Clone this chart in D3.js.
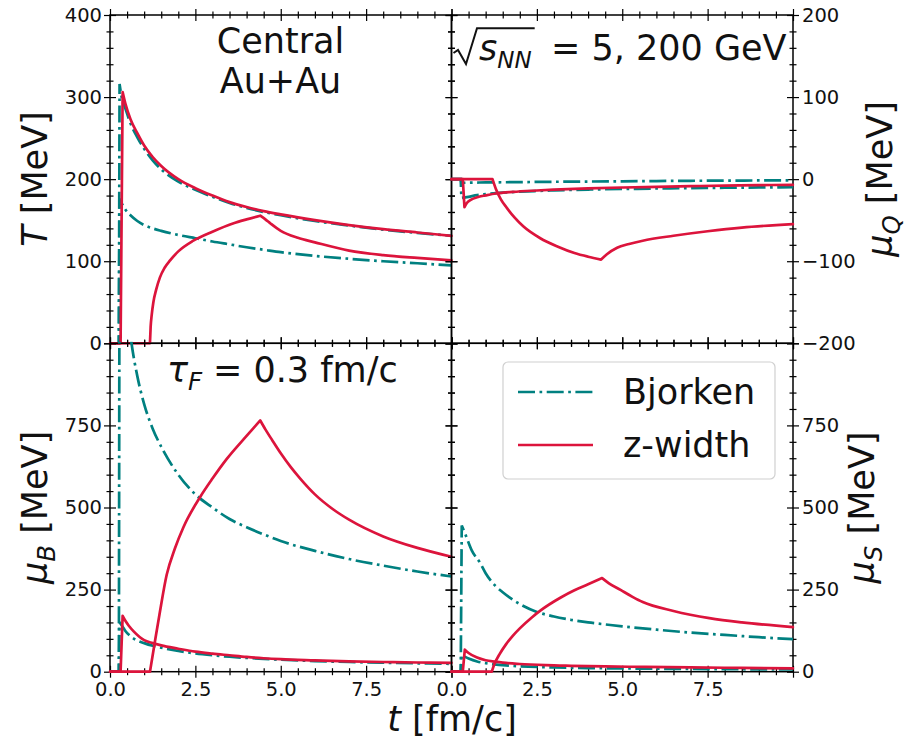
<!DOCTYPE html>
<html>
<head>
<meta charset="utf-8">
<script src="https://cdn.jsdelivr.net/npm/d3@7"></script>
<style>
  body { margin: 0; background: #fff; }
  text { font-family: "DejaVu Sans", sans-serif; fill: #111; }
</style>
</head>
<body>
<svg id="chart" width="915" height="742"></svg>
<script>
// ---- values: [t (fm/c), value (MeV)] ----

// temperature T
const tBjorkenHi = [[0,0],[0.26,0],[0.28,316],[0.35,298],[0.45,286],[0.6,268],[0.8,251],[1,237],[1.25,223],[1.5,212],[2,197],[2.5,187],[3,178.5],[3.5,171],[4,165],[4.5,160],[5,156],[6,149],[7,143.5],[8,138.5],[9,134.5],[10,131]];
const tBjorkenLo = [[0,0],[0.26,0],[0.28,176],[0.35,170],[0.45,163],[0.6,156],[0.8,149],[1,144],[1.25,140],[1.5,137],[2,132],[2.5,128],[3,124],[3.5,120.5],[4,117],[4.5,114],[5,111],[6,106.5],[7,103],[8,100],[9,97.5],[10,95]];
const tZwidthHi = [[0,0],[0.31,0],[0.37,306],[0.45,292],[0.6,273],[0.8,256],[1,241],[1.25,227],[1.5,216],[2,200],[2.5,189],[3,180],[3.5,172],[4,166],[4.5,161],[5,157],[6,150],[7,144],[8,139],[9,135],[10,131]];
const tZwidthLo = [[0,0],[1.17,0],[1.19,20],[1.22,34],[1.27,50],[1.35,65],[1.46,80],[1.6,92],[1.76,101],[2,112],[2.44,125],[3,136],[3.6,146],[4,151],[4.4,155.5],[4.55,151],[4.7,146],[5,137],[5.5,128.5],[6,123],[7,113],[8,107.5],[9,104],[10,101]];

// charge chemical potential muQ
const qBjorkenHi = [[0,0],[0.27,0],[0.29,-4.5],[0.5,-4.3],[1,-4],[2,-3.6],[3,-3.2],[4,-2.9],[5,-2.6],[6,-2.3],[7,-2],[8,-1.8],[9,-1.6],[10,-1.4]];
const qBjorkenLo = [[0,0],[0.27,0],[0.29,-23],[0.5,-21.5],[0.75,-19.5],[1,-18.3],[1.5,-16.5],[2,-15.3],[2.5,-14.4],[3,-13.7],[4,-12.7],[5,-12],[6,-11.4],[7,-10.9],[8,-10.5],[9,-10.1],[10,-9.8]];
const qZwidthHi = [[0,0],[0.33,0],[0.38,-34],[0.45,-29],[0.55,-25.5],[0.8,-21.5],[1,-19.8],[1.3,-17.5],[1.8,-15.5],[2.5,-13.8],[3,-12.8],[4,-11.3],[5,-10.2],[6,-9.3],[7,-8.5],[8,-7.9],[9,-7.3],[10,-6.9]];
const qZwidthLo = [[0,0],[1.2,0],[1.3,-12],[1.45,-25],[1.62,-35],[1.85,-47],[2.1,-57.5],[2.6,-72],[3.1,-82],[3.6,-90],[4,-94.5],[4.38,-98],[4.55,-91.5],[4.85,-83.5],[5.2,-79],[5.6,-75],[6.5,-69],[7.5,-63.5],[8.5,-59],[10,-54.8]];

// baryon chemical potential muB
const bBjorkenHi = [[0,0],[0.26,0],[0.28,1450],[0.4,1230],[0.5,1110],[0.63,1000],[0.8,900],[1,815],[1.25,740],[1.5,685],[2,600],[2.5,540],[3,500],[3.5,465],[4,440],[4.5,418],[5,398],[6,368],[7,343],[8,323],[9,305],[10,290]];
const bBjorkenLo = [[0,0],[0.26,0],[0.28,150],[0.35,140],[0.45,124],[0.6,108],[0.8,95],[1,87],[1.25,79],[1.5,73],[2,63],[2.5,55.5],[3,50],[3.5,45.5],[4,42],[4.5,39],[5,36.5],[6,32.5],[7,29.5],[8,27.5],[9,25.5],[10,24]];
const bZwidthLo = [[0,0],[0.31,0],[0.37,170],[0.45,155],[0.55,140],[0.7,122],[1,96],[1.25,87],[1.5,80],[2,70],[2.5,61],[3,55],[3.5,50],[4,45],[4.5,41],[5,38],[6,34.5],[7,31.5],[8,29.5],[9,28],[10,27]];
const bZwidthHi = [[0,0],[1.17,0],[1.3,82],[1.45,175],[1.66,295],[1.9,375],[2.15,440],[2.64,532],[3,588],[3.42,648],[4,718],[4.4,765],[4.55,738],[4.75,705],[5,665],[5.3,622],[5.57,588],[6,540],[6.54,494],[7,463],[8,412],[9,377],[10,350]];

// strangeness chemical potential muS
const sBjorkenHi = [[0,0],[0.27,0],[0.3,445],[0.4,420],[0.6,368],[0.84,331],[1,300],[1.28,262],[1.5,242],[2,206],[2.5,182],[3,168],[3.5,158],[4,150],[4.5,144],[5,138],[6,128],[7,119],[8,112],[9,105],[10,99]];
const sBjorkenLo = [[0,0],[0.27,0],[0.3,50],[0.5,40],[0.75,31],[1,26],[1.5,20],[2,16.5],[3,13],[4,11],[5,10],[6,9],[7,8.3],[8,7.7],[9,7.2],[10,6.8]];
const sZwidthLo = [[0,0],[0.33,0],[0.39,67],[0.5,57],[0.75,43],[1,35],[1.28,30.5],[1.5,27.5],[2,23.5],[2.75,20],[3.5,18],[4.5,16],[5.67,14.5],[7,13],[8.5,11.5],[10,10]];
const sZwidthHi = [[0,0],[1.18,0],[1.25,22],[1.4,52],[1.6,84],[1.8,110],[2,132],[2.36,166],[2.6,186],[3.2,226],[3.6,248],[4,266],[4.41,285],[4.6,270],[4.95,249],[5.3,228],[5.6,212],[6.5,185],[7.55,163],[8.5,150],[10,136]];

// ticks
const xMajorTicks = [0, 2.5, 5, 7.5, 10];
const xTickLabels = [0, 2.5, 5, 7.5];
const yTicksT = [0, 100, 200, 300, 400];
const yTicksQ = [-200, -100, 0, 100, 200];
const yTicksMu = [0, 250, 500, 750, 1000];
const yLabelsMu = [0, 250, 500, 750];

const legendLabels = ["Bjorken", "z-width"];

// ---- layout ----
const svg = d3.select("#chart");
const frame = {left: 110, mid: 451.5, right: 793, top: 15, midY: 343.3, bottom: 671.7};
const teal = "#008080", red = "#dc143c";
const lw = 2.7;
const dashDot = "17,4.5,2.7,4.5";

const xL = d3.scaleLinear().domain([0, 10]).range([frame.left, frame.mid]);
const xR = d3.scaleLinear().domain([0, 10]).range([frame.mid, frame.right]);

const panels = [
  {id: "pT", x: xL, y: d3.scaleLinear().domain([0, 400]).range([frame.midY, frame.top]),
   yTicks: yTicksT, yLabels: yTicksT, yMinor: 20, side: "left", xLabels: false,
   teal: [tBjorkenHi, tBjorkenLo], red: [tZwidthHi, tZwidthLo]},
  {id: "pQ", x: xR, y: d3.scaleLinear().domain([-200, 200]).range([frame.midY, frame.top]),
   yTicks: yTicksQ, yLabels: yTicksQ, yMinor: 20, side: "right", xLabels: false,
   teal: [qBjorkenHi, qBjorkenLo], red: [qZwidthHi, qZwidthLo]},
  {id: "pB", x: xL, y: d3.scaleLinear().domain([0, 1000]).range([frame.bottom, frame.midY]),
   yTicks: yTicksMu, yLabels: yLabelsMu, yMinor: 50, side: "left", xLabels: true,
   teal: [bBjorkenHi, bBjorkenLo], red: [bZwidthLo, bZwidthHi]},
  {id: "pS", x: xR, y: d3.scaleLinear().domain([0, 1000]).range([frame.bottom, frame.midY]),
   yTicks: yTicksMu, yLabels: yLabelsMu, yMinor: 50, side: "right", xLabels: true,
   teal: [sBjorkenHi, sBjorkenLo], red: [sZwidthLo, sZwidthHi]}
];

function minorValues(lo, hi, step, majors) {
  return d3.range(lo, hi + step / 2, step).filter(v => !majors.some(m => Math.abs(m - v) < 1e-9));
}

// axis with ticks crossing the spine (matplotlib "inout")
function addAxis(gen, transform, values, fmt, len, pad, horizontal) {
  const g = svg.append("g").attr("transform", transform)
    .call(gen.tickValues(values).tickSize(len).tickPadding(pad).tickFormat(fmt || (() => "")));
  g.select(".domain").remove();
  g.attr("font-size", null).attr("font-family", null);
  const lines = g.selectAll(".tick line").attr("stroke", "#000").attr("stroke-width", 1.2);
  if (horizontal) lines.attr("y1", -len).attr("y2", len);
  else lines.attr("x1", -len).attr("x2", len);
  g.selectAll(".tick text").attr("font-size", 19.5).attr("fill", "#111");
}

// split at changes of direction so cusps stay sharp, keep one path (dashes continue)
function curvePath(points, x, y) {
  const line = d3.line().x(d => x(d[0])).y(d => y(d[1])).curve(d3.curveMonotoneX);
  const sgn = i => Math.sign(points[i + 1][1] - points[i][1]);
  const pieces = [];
  let start = 0;
  for (let i = 1; i < points.length - 1; i++) {
    if (sgn(i) !== sgn(i - 1)) { pieces.push(points.slice(start, i + 1)); start = i; }
  }
  pieces.push(points.slice(start));
  return pieces.map((p, k) => {
    const s = line(p);
    return k ? s.replace(/^M[^A-Za-z]*/, "") : s;
  }).join("");
}

const defs = svg.append("defs");
const fmtX = d3.format(".1f");
const fmtY = d3.format("d");

panels.forEach(p => {
  const [x0, x1] = p.x.range();
  const [y1, y0] = p.y.range();

  // frame
  svg.append("rect").attr("x", x0).attr("y", y0).attr("width", x1 - x0).attr("height", y1 - y0)
    .attr("fill", "none").attr("stroke", "#000").attr("stroke-width", 1.5);

  // x ticks (bottom + top)
  const xMinor = minorValues(0, 10, 0.5, xMajorTicks);
  addAxis(d3.axisBottom(p.x), `translate(0,${y1})`, xMajorTicks,
    p.xLabels ? (d => xTickLabels.includes(d) ? fmtX(d) : "") : null, 6, 4, true);
  addAxis(d3.axisBottom(p.x), `translate(0,${y1})`, xMinor, null, 3.5, 0, true);
  addAxis(d3.axisTop(p.x), `translate(0,${y0})`, xMajorTicks, null, 6, 0, true);
  addAxis(d3.axisTop(p.x), `translate(0,${y0})`, xMinor, null, 3.5, 0, true);

  // y ticks (left + right), labels on the outer side
  const yMinor = minorValues(p.y.domain()[0], p.y.domain()[1], p.yMinor, p.yTicks);
  const yFmt = d => p.yLabels.includes(d) ? fmtY(d) : "";
  addAxis(d3.axisLeft(p.y), `translate(${x0},0)`, p.yTicks, p.side === "left" ? yFmt : null, 6, 2, false);
  addAxis(d3.axisLeft(p.y), `translate(${x0},0)`, yMinor, null, 3.5, 0, false);
  addAxis(d3.axisRight(p.y), `translate(${x1},0)`, p.yTicks, p.side === "right" ? yFmt : null, 6, 3, false);
  addAxis(d3.axisRight(p.y), `translate(${x1},0)`, yMinor, null, 3.5, 0, false);

  // clip slightly outside so lines sitting on zero stay whole
  defs.append("clipPath").attr("id", "clip-" + p.id).append("rect")
    .attr("x", x0 - 1.5).attr("y", y0 - 1.5).attr("width", x1 - x0 + 3).attr("height", y1 - y0 + 3);
  const gl = svg.append("g").attr("clip-path", `url(#clip-${p.id})`);

  p.teal.forEach(d => gl.append("path").attr("d", curvePath(d, p.x, p.y))
    .attr("fill", "none").attr("stroke", teal).attr("stroke-width", lw)
    .attr("stroke-dasharray", dashDot));
  p.red.forEach(d => gl.append("path").attr("d", curvePath(d, p.x, p.y))
    .attr("fill", "none").attr("stroke", red).attr("stroke-width", lw)
    .attr("stroke-linejoin", "round").attr("stroke-linecap", "round"));
});

// ---- axis labels ----
function yLabel(x, y, sym, sub) {
  const t = svg.append("text").attr("transform", `translate(${x},${y}) rotate(-90)`)
    .attr("text-anchor", "middle").attr("font-size", 35);
  t.append("tspan").attr("font-style", "italic").text(sym);
  if (sub) {
    t.append("tspan").attr("font-style", "italic").attr("font-size", 24.5).attr("dy", 8).text(sub);
    t.append("tspan").attr("dy", -8).text(" [MeV]");
  } else {
    t.append("tspan").text(" [MeV]");
  }
}
yLabel(46.5, 179, "T", null);
yLabel(46.5, 507.5, "μ", "B");
yLabel(891.5, 179, "μ", "Q");
yLabel(874, 507.5, "μ", "S");

const xlab = svg.append("text").attr("x", 452).attr("y", 731).attr("text-anchor", "middle").attr("font-size", 35);
xlab.append("tspan").attr("font-style", "italic").text("t");
xlab.append("tspan").text(" [fm/c]");

// ---- annotations ----
svg.append("text").attr("x", 280.5).attr("y", 53).attr("text-anchor", "middle").attr("font-size", 35).text("Central");
svg.append("text").attr("x", 280.5).attr("y", 93).attr("text-anchor", "middle").attr("font-size", 35).text("Au+Au");

const sq = svg.append("text").attr("x", 479).attr("y", 60).attr("font-size", 35);
sq.append("tspan").attr("font-style", "italic").text("s");
sq.append("tspan").attr("font-style", "italic").attr("font-size", 23).attr("dy", 8).text("NN");
sq.append("tspan").attr("x", 551).attr("dy", -8).text("= 5, 200 GeV");
const barEnd = sq.node().getEndPositionOfChar(2).x + 3;
svg.append("path")
  .attr("d", `M453.5,53 L458,50 L466,64 L477,28.3 L${barEnd},28.3`)
  .attr("fill", "none").attr("stroke", "#111").attr("stroke-width", 2).attr("stroke-linejoin", "miter");

const tau = svg.append("text").attr("x", 167).attr("y", 382).attr("font-size", 35);
tau.append("tspan").attr("font-style", "italic").text("τ");
tau.append("tspan").attr("font-style", "italic").attr("font-size", 24.5).attr("dy", 8).text("F");
tau.append("tspan").attr("x", 213).attr("dy", -8).text("= 0.3 fm/c");

// ---- legend ----
const lg = svg.append("g");
lg.append("rect").attr("x", 503).attr("y", 362).attr("width", 272).attr("height", 117).attr("rx", 5)
  .attr("fill", "#fff").attr("fill-opacity", 0.8).attr("stroke", "#d0d0d0").attr("stroke-width", 1.2);
[teal, red].forEach((c, i) => {
  const yy = 392 + i * 53;
  lg.append("line").attr("x1", 518).attr("x2", 593).attr("y1", yy).attr("y2", yy)
    .attr("stroke", c).attr("stroke-width", lw)
    .attr("stroke-dasharray", i === 0 ? dashDot : null);
  lg.append("text").attr("x", 623).attr("y", yy + 12).attr("font-size", 35).text(legendLabels[i]);
});
</script>
</body>
</html>
